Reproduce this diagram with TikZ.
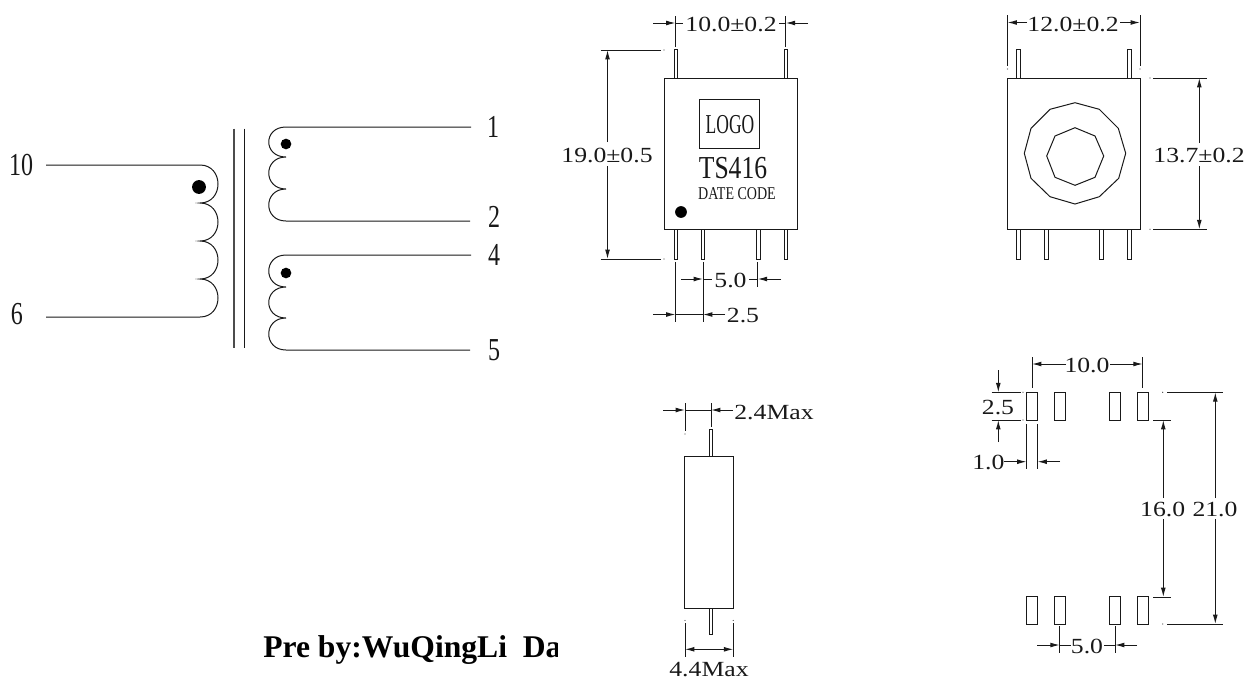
\documentclass[tikz,border=0pt]{standalone}
\usepackage{graphicx}
\usepackage{fontspec}
\setmainfont{Liberation Serif}
\usetikzlibrary{arrows.meta}
\newcommand{\dimtxt}[1]{\scalebox{1.19}[1]{\fontsize{16.2}{16.2}\selectfont #1}}
\newcommand{\condtxt}[3]{\scalebox{#1}[1]{\fontsize{#2}{#2}\selectfont #3}}
\tikzset{
  px/.style={x=0.75pt,y=-0.75pt},
  cad/.style={line width=0.75pt,color=black!90},
  dimarrow/.style={cad,-{Latex[length=7pt,width=3.6pt]}},
  bothdim/.style={cad,{Latex[length=7pt,width=3.6pt]}-{Latex[length=7pt,width=3.6pt]}},
  label/.style={inner sep=0pt,text depth=0pt,anchor=center,text=black!90},
}
\begin{document}
\begin{tikzpicture}[px]
\useasboundingbox (0,0) rectangle (1248,679);
% ---------- transformer schematic ----------
\draw[cad] (46,165) -- (200,165) .. controls (224,165) and (224,203) .. (200,203)
  .. controls (224,203) and (224,241) .. (200,241)
  .. controls (224,241) and (224,279) .. (200,279)
  .. controls (224,279) and (224,317) .. (200,317) -- (46,317);
\draw[line width=1.1pt,color=black!70] (234,128.5) -- (234,348);
\draw[cad] (244.5,128.5) -- (244.5,348);
\draw[cad] (471,127) -- (286,127) .. controls (263,127) and (263,157) .. (286,157)
  .. controls (263,157) and (263,189) .. (286,189)
  .. controls (263,189) and (263,221) .. (286,221) -- (470,221);
\draw[cad] (471,255) -- (286,255) .. controls (263,255) and (263,287) .. (286,287)
  .. controls (263,287) and (263,318) .. (286,318)
  .. controls (263,318) and (263,350) .. (286,350) -- (470,350);
\fill (199,187) circle[radius=5.2pt];
\fill (286,144) circle[radius=4pt];
\fill (286,273) circle[radius=4pt];
\node[label] (n10) at (21,165) {\condtxt{.75}{24}{10}};
\node[label] (n6) at (17,314) {\condtxt{.75}{24}{6}};
\node[label] (n1) at (493,127) {\condtxt{.75}{24}{1}};
\node[label] (n2) at (494,217) {\condtxt{.75}{24}{2}};
\node[label] (n4) at (494,255) {\condtxt{.75}{24}{4}};
\node[label] (n5) at (494,350) {\condtxt{.75}{24}{5}};
% ---------- front view ----------
\draw[cad] (664.3,78) rectangle (797,229.3);
\draw[cad] (699,99) rectangle (759.7,148.3);
\foreach \a/\b in {674/677.5,784.3/787.7} \draw[cad] (\a,78) -- (\a,49.5) -- (\b,49.5) -- (\b,78);
\foreach \a/\b in {674/677.5,701/704.5,756.5/760.5,784.3/787.7} \draw[cad] (\a,229.3) -- (\a,259) -- (\b,259) -- (\b,229.3);
\fill (681,212) circle[radius=4.4pt];
\node[label] (logo) at (730,124) {\condtxt{.64}{20.5}{LOGO}};
\node[label] (ts) at (733,168) {\condtxt{.8}{24}{TS416}};
\node[label] (date) at (737,194) {\condtxt{.78}{13.5}{DATE CODE}};
% dim 10.0+-0.2
\draw[cad] (675.5,16) -- (675.5,47);
\draw[cad] (785.7,16) -- (785.7,47);
\draw[dimarrow] (653,23) -- (675.5,23);
\draw[cad] (675.5,23) -- (683,23);
\draw[dimarrow] (808,23) -- (785.7,23);
\draw[cad] (785.7,23) -- (779,23);
\node[label] (d1) at (731,24) {\dimtxt{10.0±0.2}};
% dim 19.0+-0.5
\draw[cad] (600.5,50) -- (661,50);
\draw[cad] (600.5,259) -- (661,259);
\draw[dimarrow] (607.5,142) -- (607.5,50);
\draw[dimarrow] (607.5,166) -- (607.5,259);
\node[label] (d2) at (607,155) {\dimtxt{19.0±0.5}};
% dim 5.0 / 2.5
\draw[cad] (675.5,262) -- (675.5,322);
\draw[cad] (703,262) -- (703,322);
\draw[cad] (757.7,262) -- (757.7,287);
\draw[dimarrow] (681,279) -- (703,279);
\draw[cad] (703,279) -- (712,279);
\draw[dimarrow] (781,279) -- (757.7,279);
\draw[cad] (757.7,279) -- (749,279);
\node[label] (d3) at (730.5,280) {\dimtxt{5.0}};
\draw[dimarrow] (653,314.5) -- (675.5,314.5);
\draw[cad] (675.5,314.5) -- (703,314.5);
\draw[dimarrow] (725,314.5) -- (703,314.5);
\node[label] (d4) at (743,315) {\dimtxt{2.5}};
% ---------- back view ----------
\draw[cad] (1007.7,78) rectangle (1140.3,229.3);
\foreach \a/\b in {1016.5/1020.5,1127.4/1131.2} \draw[cad] (\a,78) -- (\a,49.5) -- (\b,49.5) -- (\b,78);
\foreach \a/\b in {1016.5/1020.5,1044/1048.3,1099.3/1103.7,1127.4/1131.2} \draw[cad] (\a,229.3) -- (\a,259) -- (\b,259) -- (\b,229.3);
\draw[cad] (1075,102.7) -- (1099.3,109.3) -- (1118.3,128.3) -- (1125.7,153.3) -- (1118.7,178.3) -- (1099.3,196.7) -- (1075,204) -- (1050,196.7) -- (1031,178.3) -- (1024.3,153.3) -- (1031,128.3) -- (1050,109.3) -- cycle;
\draw[cad] (1075,127.7) -- (1095,136) -- (1103.7,156) -- (1095,177.3) -- (1075,185.3) -- (1055,177.3) -- (1046.7,156) -- (1055,136) -- cycle;
\draw[cad] (1007.5,15) -- (1007.5,66);
\draw[cad] (1140,15) -- (1140,66);
\draw[dimarrow] (1027,22.5) -- (1007.5,22.5);
\draw[dimarrow] (1120,22.5) -- (1140,22.5);
\node[label] (d5) at (1073,24) {\dimtxt{12.0±0.2}};
\draw[cad] (1153,78) -- (1207,78);
\draw[cad] (1153,229.3) -- (1207,229.3);
\draw[dimarrow] (1199.3,143) -- (1199.3,78);
\draw[dimarrow] (1199.3,166) -- (1199.3,229.3);
\node[label] (d6) at (1199,155) {\dimtxt{13.7±0.2}};
% ---------- side view ----------
\draw[cad] (684.3,456) rectangle (733.3,608.3);
\draw[cad] (709.3,456) -- (709.3,429) -- (712.7,429) -- (712.7,456);
\draw[cad] (709.3,608.3) -- (709.3,634.3) -- (712.7,634.3) -- (712.7,608.3);
\draw[cad] (685,403) -- (685,431);
\draw[cad] (711,403) -- (711,427);
\draw[dimarrow] (663,410) -- (685,410);
\draw[cad] (685,410) -- (711,410);
\draw[dimarrow] (733,410) -- (711,410);
\node[label] (d7) at (774,412) {\dimtxt{2.4Max}};
\draw[cad] (685,623) -- (685,657);
\draw[cad] (733.3,623) -- (733.3,657);
\draw[bothdim] (685,649.3) -- (733.3,649.3);
\node[label] (d8) at (709,669.5) {\dimtxt{4.4Max}};
% ---------- footprint ----------
\foreach \a/\b in {1026.7/1037.7,1054.3/1065.3,1109.7/1120.3,1137.3/1148.3} {
  \draw[cad] (\a,392.3) rectangle (\b,420);
  \draw[cad] (\a,596.7) rectangle (\b,624);
}
\draw[cad] (1032,357) -- (1032,388);
\draw[cad] (1142.7,357) -- (1142.7,388);
\draw[dimarrow] (1066,364) -- (1032,364);
\draw[dimarrow] (1110,364) -- (1142.7,364);
\node[label] (d9) at (1087,365) {\dimtxt{10.0}};
\draw[cad] (991.7,392.3) -- (1021,392.3);
\draw[cad] (991.7,420) -- (1021,420);
\draw[dimarrow] (998.3,370) -- (998.3,392.3);
\draw[dimarrow] (998.3,442) -- (998.3,420);
\node[label] (d10) at (998,407) {\dimtxt{2.5}};
\draw[cad] (1026.5,424) -- (1026.5,469);
\draw[cad] (1037.5,424) -- (1037.5,469);
\draw[dimarrow] (1004,461.7) -- (1026.5,461.7);
\draw[dimarrow] (1060,461.7) -- (1037.5,461.7);
\node[label] (d11) at (988.3,462) {\dimtxt{1.0}};
\draw[cad] (1153,420) -- (1170.5,420);
\draw[cad] (1153,597) -- (1170.5,597);
\draw[dimarrow] (1163.3,498) -- (1163.3,420);
\draw[dimarrow] (1163.3,519) -- (1163.3,597);
\node[label] (d12) at (1162.7,509) {\dimtxt{16.0}};
\draw[cad] (1167,392.3) -- (1222.7,392.3);
\draw[cad] (1167,624) -- (1222.7,624);
\draw[dimarrow] (1215.3,498) -- (1215.3,392.3);
\draw[dimarrow] (1215.3,519) -- (1215.3,624);
\node[label] (d13) at (1215,509) {\dimtxt{21.0}};
\draw[cad] (1059.7,626) -- (1059.7,652.7);
\draw[cad] (1115,626) -- (1115,652.7);
\draw[dimarrow] (1037,645) -- (1059.7,645);
\draw[cad] (1059.7,645) -- (1071,645);
\draw[dimarrow] (1137,645) -- (1115,645);
\draw[cad] (1115,645) -- (1104,645);
\node[label] (d14) at (1087,646) {\dimtxt{5.0}};
% small centre-line dots at the ends of extension lines
\foreach \a/\b in {664/50,664/259,1007.5/69,1140/69,1150/78,1150/229.3,1023/392.3,1023/420,1162.7/392.3,1162.7/624,685/434,685/620.5,733.3/620.5}
  \fill[black!70] (\a,\b) circle[radius=0.5pt];
% ---------- clipped caption ----------
\begin{scope}
\clip (250,630) rectangle (557,679);
\node[inner sep=0pt,anchor=base west] (pre) at (263,657.7) {\fontsize{23.7}{23.7}\bfseries Pre by:WuQingLi\ \ Da};
\end{scope}
\end{tikzpicture}
\end{document}
